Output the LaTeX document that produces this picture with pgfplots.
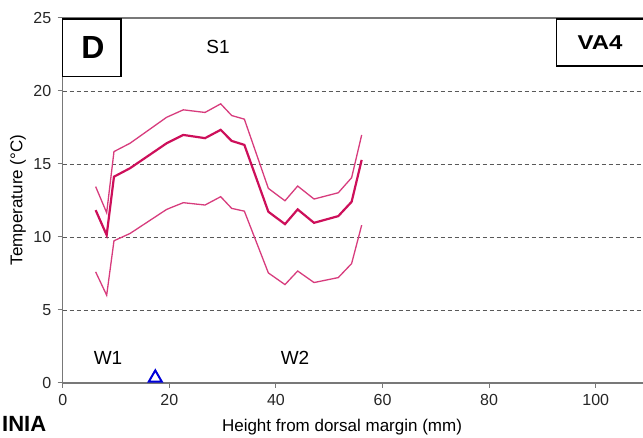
\documentclass[border=0pt]{standalone}
\usepackage{fontspec}
\setmainfont{Liberation Sans}
\usepackage{pgfplots}
\pgfplotsset{compat=1.18}
\definecolor{magA}{RGB}{205,15,90}
\definecolor{magB}{RGB}{215,60,125}
\definecolor{axg}{RGB}{120,120,120}
\begin{document}
\begin{tikzpicture}[x=1pt,y=1pt]
\begin{axis}[
  at={(62.7pt,55pt)}, anchor=south west,
  scale only axis, width=613pt, height=365pt,
  xmin=0, xmax=115, ymin=0, ymax=25,
  axis x line*=bottom, axis y line*=left,
  axis line style={axg, line width=1.2pt, -},
  xtick={0,20,40,60,80,100}, ytick={0,5,10,15,20,25},
  tick align=outside, major tick length=5pt,
  tick style={axg, line width=1pt},
  /pgf/number format/assume math mode=true,
  tick label style={font=\fontsize{16}{19}\selectfont, text=black!85},
  xticklabel style={yshift=-3pt},
  yticklabel style={xshift=-3pt},
  clip=false,
]
\draw[axg, line width=1.2pt] (axis cs:0,25) -- (axis cs:115,25);
\foreach \yy in {5,10,15,20}{
  \edef\tmp{\noexpand\draw[black!65, dashed, dash pattern=on 4pt off 3pt, line width=0.9pt] (axis cs:0,\yy) -- (axis cs:115,\yy);}\tmp
}
% upper
\addplot[magB, line width=1.3pt] coordinates {
(6.18,13.45)(8.25,11.66)(9.62,15.85)(12.63,16.42)(19.5,18.2)(22.63,18.71)(26.7,18.53)(29.64,19.12)(31.7,18.32)(34.08,18.07)(38.58,13.33)(41.7,12.48)(44.08,13.49)(47.15,12.6)(51.7,13.03)(54.2,14.06)(56.09,16.99)};
% mean
\addplot[magA, line width=2.2pt] coordinates {
(6.18,11.84)(8.25,10.13)(9.62,14.13)(12.63,14.71)(19.5,16.42)(22.63,16.99)(26.7,16.77)(29.64,17.34)(31.7,16.58)(34.08,16.31)(38.58,11.73)(41.7,10.88)(44.08,11.89)(47.15,10.97)(51.7,11.43)(54.2,12.41)(56.09,15.28)};
% lower
\addplot[magB, line width=1.3pt] coordinates {
(6.18,7.61)(8.25,6.01)(9.62,9.74)(12.63,10.24)(19.5,11.89)(22.63,12.35)(26.7,12.19)(29.64,12.76)(31.7,11.96)(34.08,11.77)(38.58,7.54)(41.7,6.74)(44.08,7.67)(47.15,6.88)(51.7,7.22)(54.2,8.18)(56.09,10.81)};
% marker
\addplot[only marks, mark=triangle, mark size=7.5pt, blue!85!black, mark options={line width=2pt}] coordinates {(17.37,0.35)};
\end{axis}
% labels
\node[font=\fontsize{17}{20}\selectfont, anchor=base] at (342,6.5) {Height from dorsal margin (mm)};
\node[font=\fontsize{17}{20}\selectfont, rotate=90] at (18,238) {Temperature (°C)};
\draw[black, line width=1.5pt, fill=white] (62.7,361.3) rectangle (121,419);
\node[font=\fontsize{32}{36}\bfseries] at (93,390) {D};
\node[font=\fontsize{19}{22}\selectfont] at (218,391) {S1};
\draw[black, line width=1.5pt, fill=white] (556.7,372) rectangle (660,419);
\node[font=\fontsize{20}{24}\bfseries, xscale=1.2] at (600,395) {VA4};
\node[font=\fontsize{19}{22}\selectfont] at (108,80) {W1};
\node[font=\fontsize{19}{22}\selectfont] at (295,80) {W2};
\node[font=\fontsize{22}{26}\bfseries, anchor=base west, inner sep=0pt] at (2,6) {INIA};
\pgfresetboundingbox
\path[use as bounding box] (0,0) rectangle (643,438);
\end{tikzpicture}
\end{document}
